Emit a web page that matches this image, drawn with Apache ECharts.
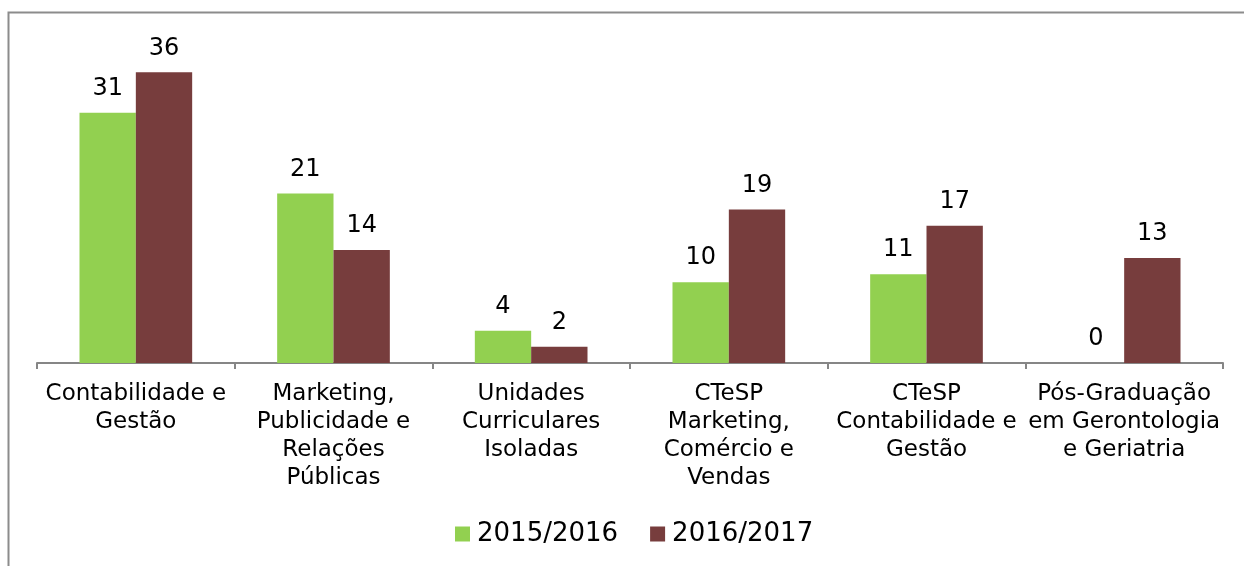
<!DOCTYPE html>
<html><head><meta charset="utf-8">
<script src="https://cdn.jsdelivr.net/npm/echarts@6/dist/echarts.min.js"></script>
<style>html,body{margin:0;padding:0;background:#fff}#c{width:1244px;height:566px}</style>
</head><body><div id="c"></div>
<script>
var categories = ["Contabilidade e\nGestão", "Marketing,\nPublicidade e\nRelações\nPúblicas", "Unidades\nCurriculares\nIsoladas", "CTeSP\nMarketing,\nComércio e\nVendas", "CTeSP\nContabilidade e\nGestão", "Pós-Graduação\nem Gerontologia\ne Geriatria"];
var seriesNames = ["2015/2016", "2016/2017"];
var values2015 = [31, 21, 4, 10, 11, 0];
var values2016 = [36, 14, 2, 19, 17, 13];

var FONT = "DejaVu Sans";
var chart = echarts.init(document.getElementById('c'), null, {renderer: 'canvas'});
var labelStyle = {show: true, position: 'top', distance: 12, color: '#000', fontFamily: FONT, fontSize: 24};
chart.setOption({
  animation: false,
  textStyle: {fontFamily: FONT},
  graphic: [{type: 'rect', shape: {x: 8.5, y: 12.5, width: 1400, height: 700}, style: {fill: 'none', stroke: '#8c8c8c', lineWidth: 2}, silent: true, z: -1}],
  grid: {left: 37, right: 21, top: 40, bottom: 203},
  legend: {
    data: seriesNames, bottom: 14, left: 450, itemWidth: 15, itemHeight: 15, itemGap: 32,
    icon: 'rect', textStyle: {fontFamily: FONT, fontSize: 26, color: '#000', padding: [0, 0, 0, 2]}
  },
  xAxis: {
    type: 'category', data: categories,
    axisLine: {lineStyle: {color: '#868686', width: 2}},
    axisTick: {show: true, length: 6, alignWithLabel: false, lineStyle: {color: '#868686', width: 2}},
    axisLabel: {interval: 0, color: '#000', fontFamily: FONT, fontSize: 23, lineHeight: 28, margin: 17, align: 'center'}
  },
  yAxis: {
    type: 'value', min: 0, max: 40, show: false,
    splitLine: {show: false}
  },
  series: [
    {name: seriesNames[0], type: 'bar', data: values2015, barGap: '0%', barCategoryGap: '43%', itemStyle: {color: '#92D050'}, label: labelStyle},
    {name: seriesNames[1], type: 'bar', data: values2016, barGap: '0%', barCategoryGap: '43%', itemStyle: {color: '#773D3D'}, label: labelStyle}
  ]
});
</script></body></html>
